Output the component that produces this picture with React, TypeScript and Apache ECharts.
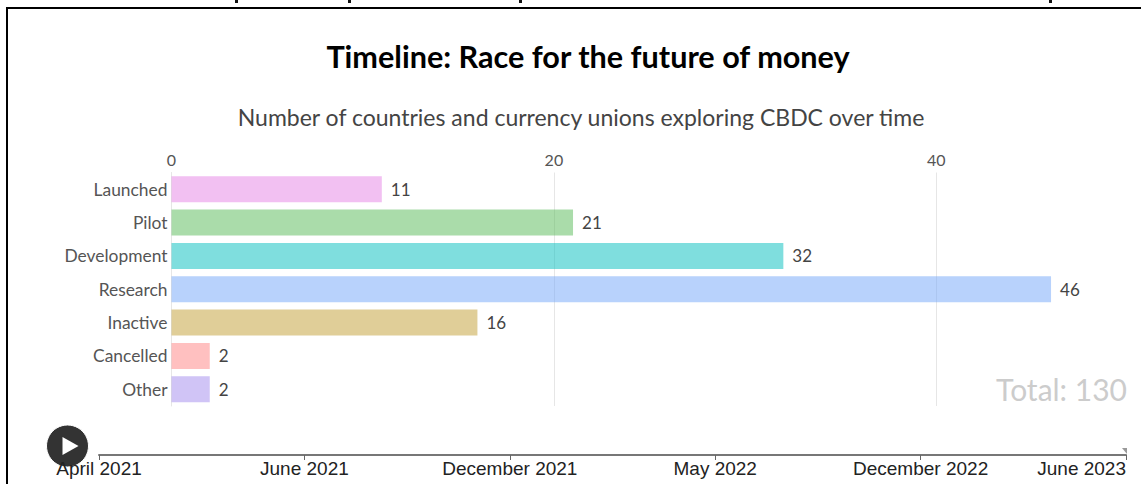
import React, { useEffect, useRef } from "react";
import * as echarts from "echarts";

const categories = ["Launched", "Pilot", "Development", "Research", "Inactive", "Cancelled", "Other"];
const counts = [11, 21, 32, 46, 16, 2, 2];
const barColors = [
  "rgba(230,129,230,0.5)",
  "rgba(85,185,85,0.5)",
  "rgba(0,189,189,0.5)",
  "rgba(113,165,249,0.5)",
  "rgba(193,157,49,0.5)",
  "rgba(255,129,129,0.5)",
  "rgba(161,137,237,0.5)",
];
const timelineLabels = ["April 2021", "June 2021", "December 2021", "May 2022", "December 2022", "June 2023"];
const titleText = "Timeline: Race for the future of money";
const subtitleText = "Number of countries and currency unions exploring CBDC over time";
const totalText = "Total: 130";
const clippedStems = [235, 348, 519, 1049];
const bodyFont = "Lato, 'Open Sans', sans-serif";

export default function App() {
  const ref = useRef<HTMLDivElement>(null);
  useEffect(() => {
    document.body.style.margin = "0";
    const chart = echarts.init(ref.current!, undefined, { renderer: "svg" });
    chart.setOption({
      animation: false,
      backgroundColor: "#fff",
      title: [
        {
          text: titleText,
          left: 583,
          top: 36,
          textAlign: "center",
          textStyle: { fontFamily: bodyFont, fontWeight: 700, fontSize: 30.6, color: "#000" },
        },
        {
          text: subtitleText,
          left: 576,
          top: 100,
          textAlign: "center",
          textStyle: { fontFamily: bodyFont, fontWeight: 400, fontSize: 23, color: "#444" },
        },
      ],
      grid: [
        { left: 171.5, width: 956, top: 172.5, height: 233.5 },
        { left: 99, width: 1027, top: 454, height: 1 },
      ],
      xAxis: [
        {
          type: "value",
          gridIndex: 0,
          position: "top",
          min: 0,
          max: 50,
          interval: 20,
          axisLine: { show: false },
          axisTick: { show: false },
          axisLabel: { color: "#555", fontFamily: bodyFont, fontSize: 16, margin: 5, showMaxLabel: false },
          splitLine: { show: true, showMaxLine: false, lineStyle: { color: "#e6e6e6", width: 1 } },
        },
        {
          type: "category",
          gridIndex: 1,
          boundaryGap: false,
          data: timelineLabels,
          axisLine: { show: true, lineStyle: { color: "#777", width: 2 } },
          axisTick: { show: true, length: 5, lineStyle: { color: "#666", width: 1 } },
          axisLabel: {
            interval: 0,
            color: "#222",
            fontFamily: "'Liberation Sans', Arial, sans-serif",
            fontSize: 19,
            margin: 4,
            alignMaxLabel: "right",
          },
        },
      ],
      yAxis: [
        {
          type: "category",
          gridIndex: 0,
          inverse: true,
          data: categories,
          axisLine: { show: true, lineStyle: { color: "#e6e6e6", width: 1 } },
          axisTick: { show: false },
          axisLabel: { color: "#555", fontFamily: bodyFont, fontSize: 17.4, margin: 4 },
        },
        { type: "value", gridIndex: 1, show: false },
      ],
      series: [
        {
          type: "bar",
          xAxisIndex: 0,
          yAxisIndex: 0,
          barWidth: 26,
          data: counts.map((value, i) => ({
            value,
            itemStyle: { color: barColors[i] },
          })),
          label: {
            show: true,
            position: "right",
            distance: 9,
            color: "#444",
            fontFamily: bodyFont,
            fontSize: 17,
          },
        },
      ],
      graphic: [
        { type: "rect", shape: { x: 6, y: 7, width: 2, height: 477 }, style: { fill: "#000" } },
        { type: "rect", shape: { x: 6, y: 7, width: 1135, height: 2 }, style: { fill: "#000" } },
        ...clippedStems.map((x) => ({
          type: "rect",
          shape: { x, y: 0, width: 3, height: 3 },
          style: { fill: "#111" },
        })),
        {
          type: "text",
          right: 14,
          top: 374,
          style: { text: totalText, fill: "#ccc", fontFamily: bodyFont, fontSize: 30 },
        },
        // Small end marker at the right of the timeline track
        { type: "polygon", shape: { points: [[1122, 448], [1127, 448], [1127, 454]] }, style: { fill: "#999" } },
        // Play control sits over the first timeline label
        { type: "circle", shape: { cx: 67.5, cy: 446, r: 21 }, style: { fill: "#333", stroke: "#fff", lineWidth: 1 } },
        { type: "polygon", shape: { points: [[62.5, 437], [62.5, 455], [78.5, 446]] }, style: { fill: "#fff" } },
      ],
    });
    return () => chart.dispose();
  }, []);
  return <div ref={ref} style={{ width: 1141, height: 484 }} />;
}
